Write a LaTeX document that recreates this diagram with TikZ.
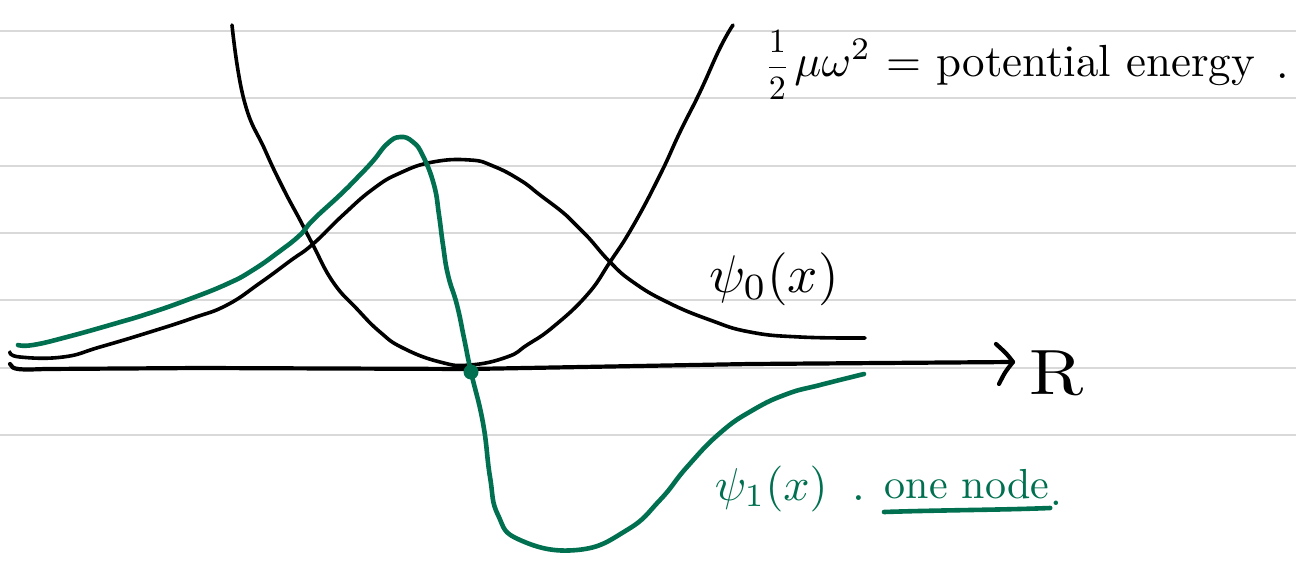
\documentclass[tikz,border=0pt]{standalone}
\usepackage{amsmath}
\begin{document}
\begin{tikzpicture}[x=1pt,y=-1pt,
  rule/.style={draw=black!15,line width=1.6pt},
  ink/.style={draw=black,line width=3.6pt,line cap=round,line join=round},
  axisink/.style={draw=black,line width=4.2pt,line cap=round,line join=round},
  gink/.style={draw=psigreen,line width=4.6pt,line cap=round,line join=round},
  blacktext/.style={text=black,inner sep=0pt},
  greentext/.style={text=psigreen,inner sep=0pt}]
\definecolor{psigreen}{RGB}{0,112,80}
\useasboundingbox[fill=white] (0,0) rectangle (1296,562);
% ruled paper lines
\foreach \yy in {31,98,166,233,300,368,435}{
  \draw[rule] (0,\yy) -- (1296,\yy);
}
% axis
\coordinate (axs) at (10,364);
\coordinate (axe) at (1013,362);
\coordinate (ahu) at (996,344);
\coordinate (ahd) at (999,384);
\draw[axisink] (axs) .. controls (12,370) and (20,370) .. (45,369)
  -- (200,368) -- (470,369) -- (750,364) -- (axe);
\draw[axisink] (ahu) .. controls (1007,354) .. (axe) .. controls (1005,372) .. (ahd);
\node[blacktext,scale=6.4,xscale=1.15,anchor=base west] (R) at (1028,394) {R};
% parabola (potential)
\draw[ink] plot[smooth,tension=0.8] coordinates {
  (232,25) (244,100) (265,150) (283,188) (300,220) (313,245) (333,282) (357,309) (380,332)
  (403,348) (440,362) (470,365)
  (507,357) (527,345) (553,327) (587,295) (610,262) (633,226) (660,175) (680,132) (700,92) (720,48) (733,25)};
% psi_0 gaussian
\draw[ink] plot[smooth,tension=0.8] coordinates {
  (10,352) (20,357) (63,357) (100,347) (150,332) (193,318) (227,305) (260,283) (290,261) (313,244)
  (343,215) (373,189) (400,173) (433,162) (470,160) (493,166) (520,180) (540,195) (567,216) (587,236)
  (610,262) (633,282) (667,302) (710,320) (750,332) (800,337) (865,338)};
% psi_1
\draw[gink] plot[smooth,tension=0.8] coordinates {
  (18,345) (33,345) (67,337) (117,323) (150,313) (187,300) (227,284) (253,270) (280,251) (300,235)
  (313,220) (340,195) (357,178) (373,161) (387,144) (400,137) (413,142) (423,156) (434,185) (439,215)
  (443,245) (448,275) (457,305) (464,338) (471,372)
  (483,423) (490,477) (498,515) (520,540) (577,550) (627,530) (660,500) (687,467) (720,433)
  (753,410) (787,394) (820,385) (864,374)};
\node[fill=psigreen,circle,inner sep=0pt,minimum size=15pt] (node0) at (471,372) {};
% labels
\node[blacktext,scale=3.4,anchor=base west] (half) at (764,76) {$\dfrac{1}{2}$};
\node[blacktext,scale=4.5,anchor=base west] (pot) at ([xshift=3pt]half.base east)
  {$\mu\omega^{2}$ = potential energy};
\node[blacktext,scale=4.5,anchor=base west] (potdot) at (1276,78) {.};
\node[blacktext,scale=5.3,anchor=base west] (psi0) at (708,292) {$\psi_{0}(x)$};
\node[greentext,scale=4.6,anchor=base west] (psi1) at (714,500) {$\psi_{1}(x)$};
\node[greentext,scale=4.6,anchor=base west] (dot1) at (852,500) {.};
\node[greentext,scale=4.2,anchor=base west] (one) at (884,498) {one node};
\node[greentext,scale=4.2,anchor=base west] (dot) at (1050,505) {.};
\coordinate (ul1) at ([yshift=-14pt]one.base west);
\coordinate (ul2) at ([yshift=-10pt]one.base east);
\draw[gink] (ul1) .. controls ([xshift=60pt,yshift=2pt]ul1) and ([xshift=-50pt,yshift=-2pt]ul2) .. (ul2);
\end{tikzpicture}
\end{document}
